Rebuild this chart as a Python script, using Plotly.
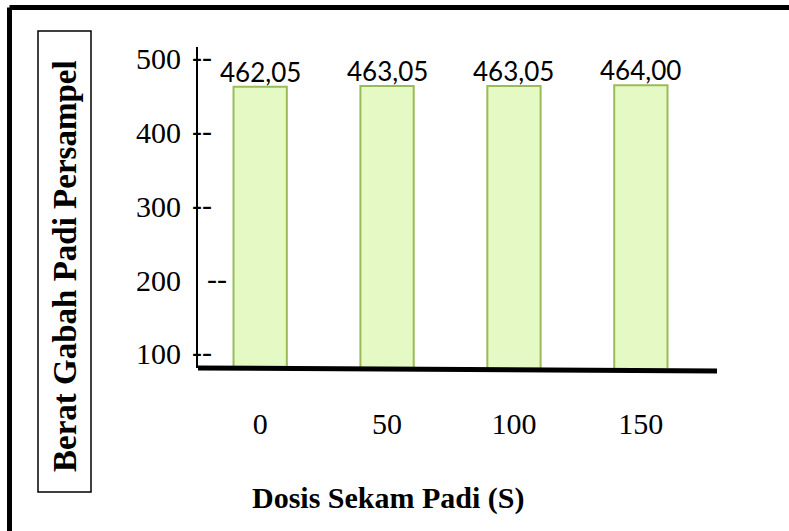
import plotly.graph_objects as go

# Rice-husk dose (S) categories and grain weight per sample
doses = ["0", "50", "100", "150"]
weights = [462.05, 463.05, 463.05, 464.00]
y_ticks = [100, 200, 300, 400, 500]
y_tick_text = ["100", "200", "300", "400", "500"]

labels = [f"{w:.2f}".replace(".", ",") for w in weights]

SERIF = "Liberation Serif, Times New Roman, serif"
SANS = "Lato, Carlito, Calibri, sans-serif"

W, H = 789, 531
ML, MR, MT, MB = 198, 72, 47, 163
PW, PH = W - ML - MR, H - MT - MB


def px_x(x):
    return (x - ML) / PW


def px_y(y):
    return (H - MB - y) / PH


fig = go.Figure(
    go.Bar(
        x=doses,
        y=weights,
        width=0.42,
        marker=dict(color="#E4F9C4", line=dict(color="#9BBB59", width=2)),
        hoverinfo="x+y",
    )
)

# value labels sitting on the bar tops (x given as category index)
for i, (w, lab) in enumerate(zip(weights, labels)):
    fig.add_annotation(
        x=i, y=w, xref="x", yref="y",
        xanchor="center", yanchor="bottom", yshift=-3,
        text=lab, showarrow=False,
        font=dict(family=SANS, size=26, color="black"),
    )

fig.update_layout(
    width=W,
    height=H,
    margin=dict(l=ML, r=MR, t=MT, b=MB),
    paper_bgcolor="white",
    plot_bgcolor="white",
    showlegend=False,
)

fig.update_xaxes(
    type="category",
    range=[-0.49, 3.6],
    showline=False,
    showgrid=False,
    zeroline=False,
    ticks="",
    ticklabelstandoff=35,
    tickfont=dict(family=SERIF, size=30, color="black"),
)

fig.update_yaxes(
    range=[81, 516],
    showline=True,
    linecolor="black",
    linewidth=2,
    showgrid=False,
    zeroline=False,
    ticks="",
    tickvals=y_ticks,
    ticktext=y_tick_text,
    ticklabelstandoff=9,
    tickfont=dict(family=SERIF, size=30, color="black"),
)

# dash marks at the y ticks ("--"), the 200 mark sits off the axis
mark_offset = {200: 15}
for v in y_ticks:
    fig.add_annotation(
        x=px_x(202 + mark_offset.get(v, 0)), xref="paper", xanchor="center",
        y=v, yref="y", yanchor="middle", yshift=2,
        text="--", showarrow=False,
        font=dict(family=SERIF, size=30, color="black"),
    )

# heavy, slightly sloping baseline
fig.add_shape(
    type="line", xref="paper", yref="paper",
    x0=0, y0=px_y(368), x1=px_x(717), y1=px_y(371),
    line=dict(color="black", width=5),
)

# boxed y-axis title
fig.add_shape(
    type="rect", xref="paper", yref="paper",
    x0=px_x(38), y0=px_y(31), x1=px_x(91), y1=px_y(492),
    line=dict(color="black", width=1.5), fillcolor="rgba(0,0,0,0)",
)
fig.add_annotation(
    x=px_x(65), xref="paper", y=px_y(266), yref="paper",
    xanchor="center", yanchor="middle", textangle=-90,
    text="<b>Berat Gabah Padi Persampel</b>", showarrow=False,
    font=dict(family=SERIF, size=33, color="black"),
)

# x-axis title
fig.add_annotation(
    x=px_x(388), xref="paper", y=px_y(498), yref="paper",
    xanchor="center", yanchor="middle",
    text="<b>Dosis Sekam Padi (S)</b>", showarrow=False,
    font=dict(family=SERIF, size=30, color="black"),
)

# heavy outer frame: top and left edges (the rest runs off the page)
fig.add_shape(
    type="line", xref="paper", yref="paper",
    x0=px_x(9.5), y0=px_y(7.5), x1=px_x(900), y1=px_y(7.5),
    line=dict(color="black", width=5), layer="above",
)
fig.add_shape(
    type="line", xref="paper", yref="paper",
    x0=px_x(9.5), y0=px_y(7.5), x1=px_x(9.5), y1=px_y(700),
    line=dict(color="black", width=5), layer="above",
)

fig.write_html("out.html")
